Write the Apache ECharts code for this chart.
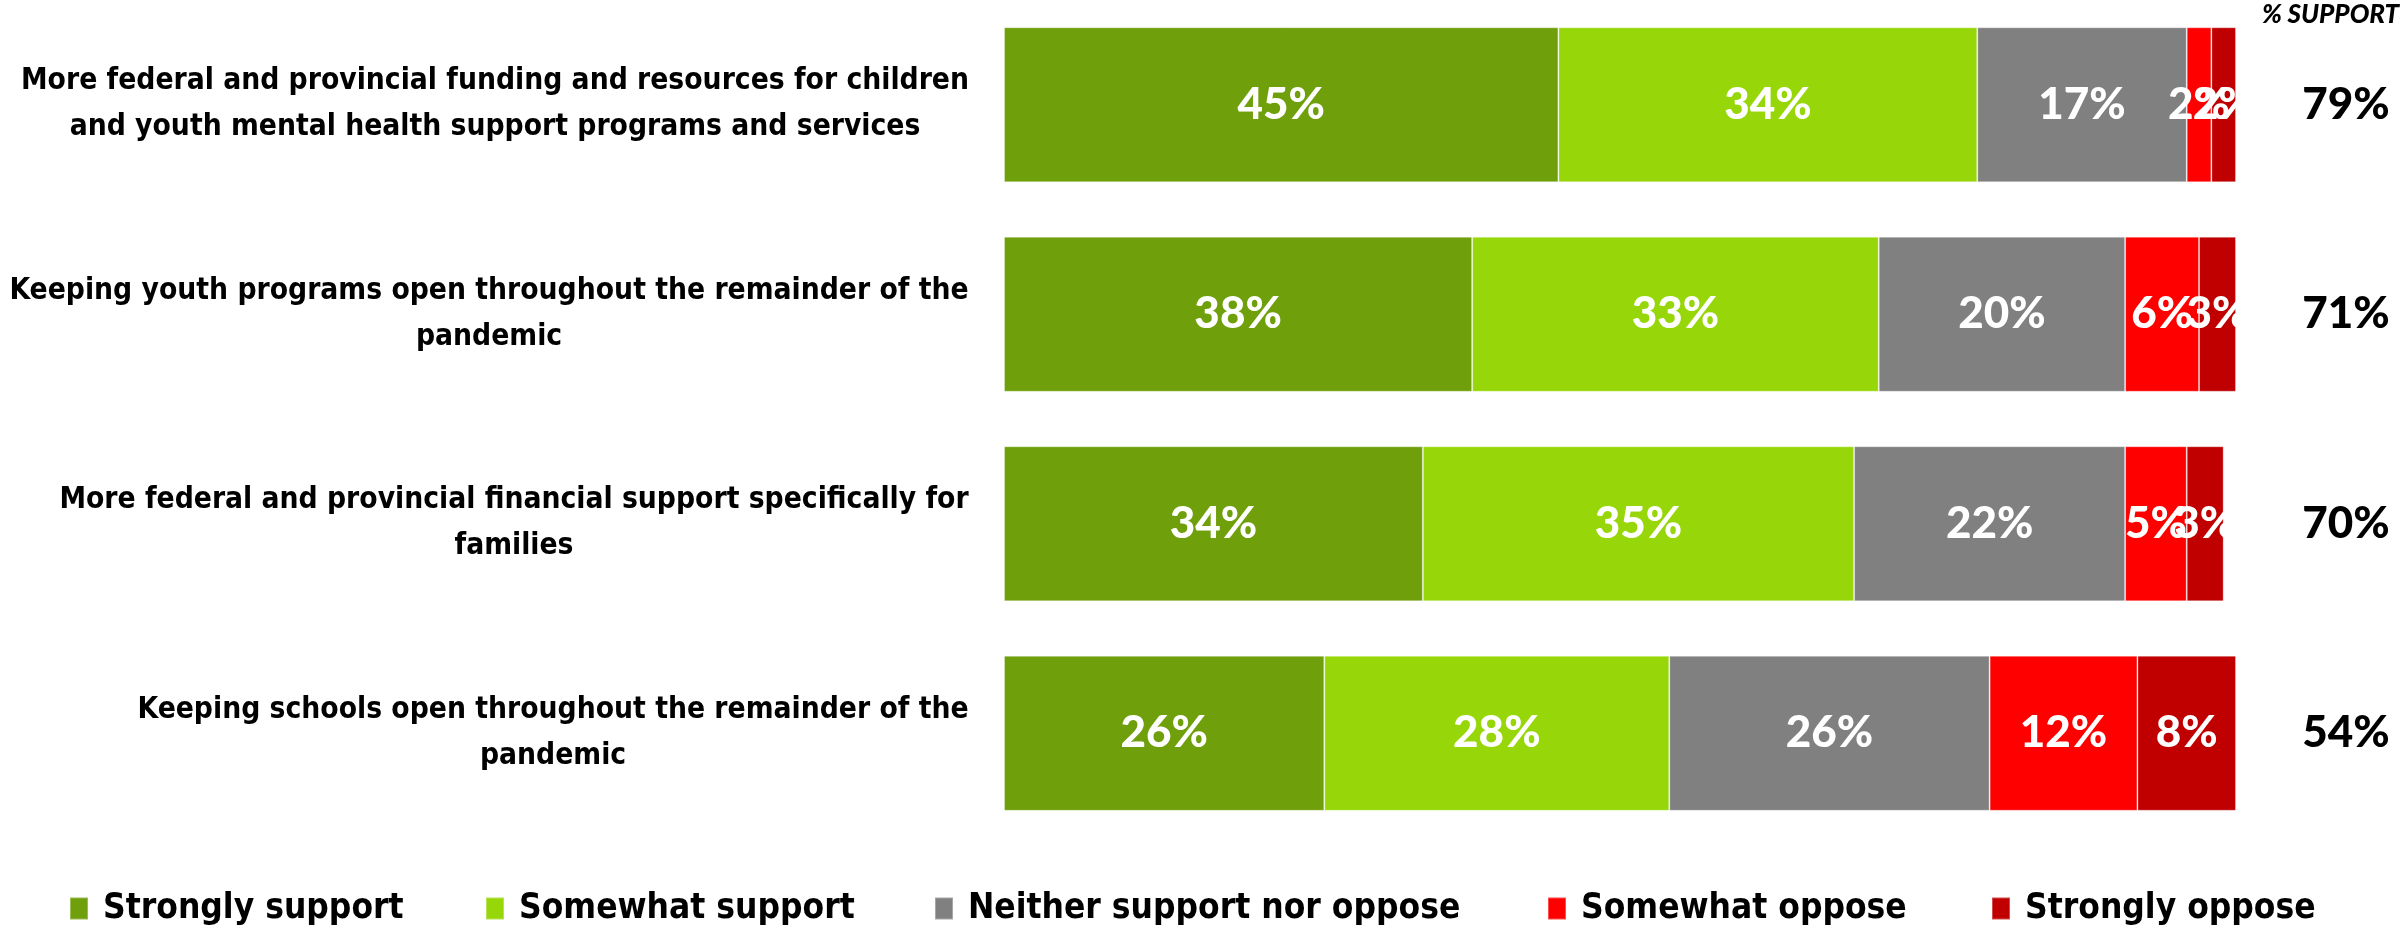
<!DOCTYPE html>
<html>
<head>
<meta charset="utf-8">
<script src="https://cdn.jsdelivr.net/npm/echarts@6/dist/echarts.min.js"></script>
<style>
  html, body { margin: 0; padding: 0; background: #ffffff; }
  #chart { width: 2400px; height: 933px; }
</style>
</head>
<body>
<div id="chart"></div>
<script>
// Survey items (line breaks as they wrap in the labels)
const categories = [
  'More federal and provincial funding and resources for children\nand youth mental health support programs and services',
  'Keeping youth programs open throughout the remainder of the\npandemic',
  'More federal and provincial financial support specifically for\nfamilies',
  'Keeping schools open throughout the remainder of the\npandemic'
];

// Response shares, % of respondents, one value per item
const seriesNames = ['Strongly support', 'Somewhat support', 'Neither support nor oppose', 'Somewhat oppose', 'Strongly oppose'];
const stronglySupport = [45, 38, 34, 26];
const somewhatSupport = [34, 33, 35, 28];
const neitherSupportNorOppose = [17, 20, 22, 26];
const somewhatOppose = [2, 6, 5, 12];
const stronglyOppose = [2, 3, 3, 8];

// Net support shown at the right of each bar
const totalSupport = [79, 71, 70, 54];
const supportHeader = '% SUPPORT';

const seriesValues = [stronglySupport, somewhatSupport, neitherSupportNorOppose, somewhatOppose, stronglyOppose];
const colors = ['#6F9F0B', '#97D70A', '#808080', '#FF0000', '#C00000'];

const condensed = "'Liberation Sans Narrow', 'DejaVu Sans Condensed', 'Arial Narrow', sans-serif";
const numberFont = "Lato, 'Open Sans', sans-serif";
const catFontSize = 29.7;
const legendFontSize = 35;

// Each label block is right-aligned against the bars; its lines are centred within the block.
const measureCtx = document.createElement('canvas').getContext('2d');
measureCtx.font = 'bold ' + catFontSize + 'px ' + condensed;
const catRich = {};
categories.forEach(function (c, i) {
  const w = Math.max.apply(null, c.split('\n').map(function (l) { return measureCtx.measureText(l).width; }));
  catRich['c' + i] = {
    width: Math.ceil(w) + 2,
    align: 'center',
    fontFamily: condensed,
    fontWeight: 'bold',
    fontSize: catFontSize,
    lineHeight: 46,
    color: '#000000'
  };
});

const legendLefts = [69, 485, 934, 1547, 1991];

const chart = echarts.init(document.getElementById('chart'), null, { renderer: 'canvas' });

chart.setOption({
  backgroundColor: '#ffffff',
  animation: false,
  title: {
    text: supportHeader,
    left: 2262,
    top: 2,
    padding: 0,
    textStyle: {
      fontFamily: numberFont,
      fontStyle: 'italic',
      fontWeight: 900,
      fontSize: 26,
      color: '#000000'
    }
  },
  legend: seriesNames.map(function (name, i) {
    return {
      data: [name],
      left: legendLefts[i],
      top: 891,
      padding: 0,
      icon: 'rect',
      itemWidth: 18,
      itemHeight: 22,
      selectedMode: false,
      textStyle: {
        fontFamily: condensed,
        fontWeight: 'bold',
        fontSize: legendFontSize,
        color: '#000000',
        padding: [0, 0, 0, 10]
      }
    };
  }),
  grid: {
    left: 1004,
    right: 164,
    top: 0,
    bottom: 95,
    containLabel: false,
    outerBoundsMode: 'none'
  },
  xAxis: {
    type: 'value',
    min: 0,
    max: 100,
    show: false
  },
  yAxis: [
    {
      type: 'category',
      inverse: true,
      data: categories,
      axisLine: { show: false },
      axisTick: { show: false },
      splitLine: { show: false },
      axisLabel: {
        margin: 34,
        align: 'right',
        formatter: function (value, index) {
          return value.split('\n').map(function (l) { return '{c' + index + '|' + l + '}'; }).join('\n');
        },
        rich: catRich
      }
    },
    {
      type: 'category',
      inverse: true,
      position: 'right',
      data: totalSupport.map(function (v) { return v + '%'; }),
      axisLine: { show: false },
      axisTick: { show: false },
      splitLine: { show: false },
      axisLabel: {
        margin: 110,
        align: 'center',
        fontFamily: numberFont,
        fontWeight: 900,
        fontSize: 44,
        color: '#000000'
      }
    }
  ],
  series: seriesNames.map(function (name, i) {
    return {
      name: name,
      type: 'bar',
      stack: 'responses',
      barWidth: 155,
      data: seriesValues[i],
      itemStyle: {
        color: colors[i],
        borderColor: 'rgba(255,255,255,0.3)',
        borderWidth: 1
      },
      label: {
        show: true,
        position: 'inside',
        formatter: '{c}%',
        color: '#ffffff',
        fontFamily: numberFont,
        fontWeight: 900,
        fontSize: 44
      },
      emphasis: { disabled: true }
    };
  })
});
</script>
</body>
</html>
